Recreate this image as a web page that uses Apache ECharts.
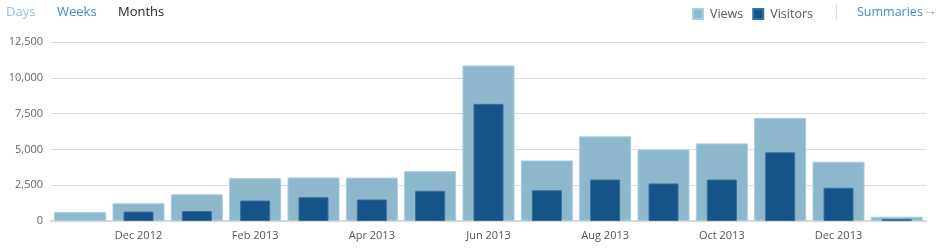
<!DOCTYPE html>
<html><head><meta charset="utf-8">
<script src="https://cdn.jsdelivr.net/npm/echarts@6/dist/echarts.min.js"></script>
<style>html,body{margin:0;padding:0;background:#fff}#c{width:943px;height:249px}</style>
</head><body><div id="c"></div>
<script>
const categories = ['Nov 2012','Dec 2012','Jan 2013','Feb 2013','Mar 2013','Apr 2013','May 2013','Jun 2013','Jul 2013','Aug 2013','Sep 2013','Oct 2013','Nov 2013','Dec 2013','Jan 2014'];
const views = [620, 1240, 1870, 2990, 3040, 3030, 3480, 10860, 4230, 5910, 4990, 5420, 7200, 4140, 300];
const visitors = [0, 660, 690, 1430, 1660, 1500, 2110, 8180, 2150, 2900, 2620, 2900, 4800, 2320, 140];
const yTicks = [0, 2500, 5000, 7500, 10000, 12500];

const font = '"Open Sans", "Noto Sans", sans-serif';
const chart = echarts.init(document.getElementById('c'));
chart.setOption({
  animation: false,
  textStyle: {fontFamily: font},
  grid: {left: 51, right: 17, top: 42, bottom: 28, containLabel: false},
  legend: {
    right: 125, top: 2.5, itemWidth: 10, itemHeight: 10, itemGap: 9,
    icon: 'rect',
    textStyle: {fontFamily: font, fontSize: 12.5, color: '#555', padding: [0, 0, 0, 2]},
    data: ['Views', 'Visitors']
  },
  xAxis: [{
    type: 'category', data: categories,
    axisLine: {lineStyle: {color: '#d8d8d8', width: 2}},
    axisTick: {show: false},
    axisLabel: {
      interval: function (i) { return i % 2 === 1; },
      color: '#555', fontSize: 11, fontFamily: font, margin: 9
    }
  }, {
    type: 'category', data: categories, show: false
  }],
  yAxis: {
    type: 'value', min: 0, max: yTicks[yTicks.length - 1], interval: 2500,
    axisLine: {show: false}, axisTick: {show: false},
    splitLine: {lineStyle: {color: '#dcdcdc', width: 1}},
    axisLabel: {
      color: '#666', fontSize: 11, fontFamily: font, margin: 8,
      formatter: function (v) { return v.toLocaleString('en-US'); }
    }
  },
  series: [{
    name: 'Views', type: 'bar', data: views, xAxisIndex: 0,
    barWidth: 52,
    itemStyle: {color: '#8db8cc', borderColor: '#a9cddc', borderWidth: 1}
  }, {
    name: 'Visitors', type: 'bar', data: visitors.map(function (v) { return v > 0 ? v : '-'; }), xAxisIndex: 1,
    barWidth: 30,
    itemStyle: {color: '#145489', borderColor: '#3a6f9c', borderWidth: 1}
  }],
  graphic: [
    {type: 'text', left: 6, top: 6, style: {text: 'Days', fill: '#8ec3e6', font: '13px ' + font}},
    {type: 'text', left: 57, top: 6, style: {text: 'Weeks', fill: '#3a8ec8', font: '13px ' + font}},
    {type: 'text', left: 118, top: 6, style: {text: 'Months', fill: '#222', font: '13px ' + font}},
    {type: 'line', shape: {x1: 836.5, y1: 4, x2: 836.5, y2: 19}, style: {stroke: '#dcdcdc', lineWidth: 1}},
    {type: 'text', left: 857, top: 6, style: {text: 'Summaries', fill: '#3a8ec8', font: '12.5px ' + font}},
    {type: 'text', left: 923, top: 4, style: {text: '\u2192', fill: '#999', font: '14px ' + font}}
  ]
});
</script>
</body></html>
